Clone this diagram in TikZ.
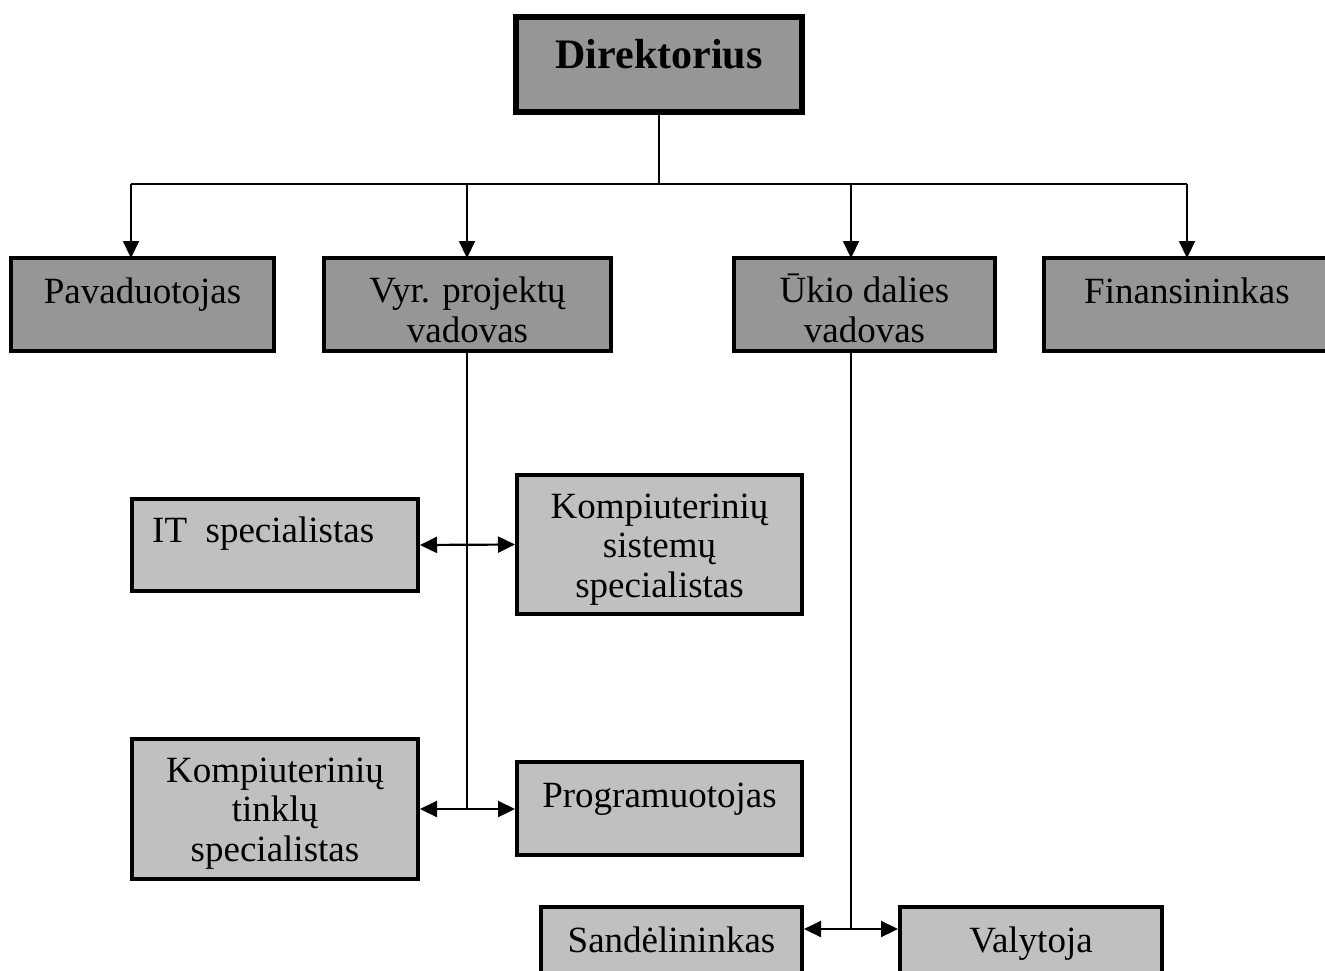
\documentclass[tikz,border=0pt]{standalone}
\usepackage{fontspec}
\setmainfont{Liberation Serif}
\usetikzlibrary{arrows.meta}
\definecolor{topgray}{RGB}{150,150,150}
\definecolor{lowgray}{RGB}{192,192,192}
\begin{document}
\begin{tikzpicture}[x=1pt,y=-1pt,
  box/.style={draw=black, line width=4pt, inner sep=0pt, rectangle},
  upper/.style={box, fill=topgray, minimum height=93pt},
  lower/.style={box, fill=lowgray},
  lbl/.style={anchor=base, align=center, inner sep=0pt,
              font=\fontsize{37pt}{39.5pt}\selectfont},
  link/.style={line width=2.2pt},
  tip/.style={-{Triangle[length=17pt,width=16pt]}},
  dtip/.style={{Triangle[length=17pt,width=16pt]}-{Triangle[length=17pt,width=16pt]}}
]
\useasboundingbox (0,0) rectangle (1325,971);
\clip (0,0) rectangle (1325,971);

% head of the organisation
\node[box, fill=topgray, line width=6pt, minimum width=286pt, minimum height=95pt]
  (dir) at (659,64.5) {};
\node[lbl, font=\fontsize{42pt}{46pt}\selectfont\bfseries] (tdir) at (659,69) {Direktorius};

% first level
\node[upper, minimum width=263pt] (pav) at (142.5,304.5) {};
\node[upper, minimum width=287pt] (vyr) at (467.5,304.5) {};
\node[upper, minimum width=261pt] (uk)  at (864.5,304.5) {};
\node[upper, minimum width=286pt] (fin) at (1187,304.5) {};

% project staff
\node[lower, minimum width=286pt, minimum height=92pt]  (it)   at (275,545) {};
\node[lower, minimum width=285pt, minimum height=139pt] (ks)   at (659.5,544.5) {};
\node[lower, minimum width=286pt, minimum height=140pt] (kt)   at (275,809) {};
\node[lower, minimum width=285pt, minimum height=93pt]  (prog) at (659.5,808.5) {};

% household staff
\node[lower, minimum width=261pt, minimum height=93pt] (sand) at (671.5,953.5) {};
\node[lower, minimum width=262pt, minimum height=93pt] (val)  at (1031,953.5) {};

% branching under the head
\coordinate (hub) at (659,184);
\coordinate (b1) at (131,184);
\coordinate (b2) at (467,184);
\coordinate (b3) at (851,184);
\coordinate (b4) at (1187,184);
\draw[link] (dir.south) -- (hub);
\draw[link] (b1) -- (b4);
\draw[link, tip] (b1) -- ([yshift=-2pt]b1 |- pav.north);
\draw[link, tip] (b2) -- ([yshift=-2pt]b2 |- vyr.north);
\draw[link, tip] (b3) -- ([yshift=-2pt]b3 |- uk.north);
\draw[link, tip] (b4) -- ([yshift=-2pt]b4 |- fin.north);

% project manager's line
\coordinate (p0) at (467,353);
\coordinate (p2) at (p0 |- prog.west);
\draw[link] (p0 |- vyr.south) -- (p2);
\draw[link, dtip] (it.east) -- (ks.west);
\draw[link, dtip] (kt.east) -- (kt.east -| prog.west);

% household manager's line
\coordinate (u0) at (851,353);
\coordinate (u1) at (851,929);
\draw[link] (u0 |- uk.south) -- (u1);
\draw[link, dtip] (sand.east |- u1) -- (val.west |- u1);

% labels (base anchor sits on the last line's baseline)
\node[lbl] (tpav) at (142.5,303) {Pavaduotojas};
\node[lbl] (tvyr) at (467.5,342) {Vyr. projektų\\vadovas};
\node[lbl] (tuk)  at (864.5,342) {Ūkio dalies\\vadovas};
\node[lbl] (tfin) at (1187,303) {Finansininkas};
\node[lbl, anchor=base west] (tit) at (152,542) {IT~~specialistas};
\node[lbl] (tks)   at (659.5,597) {Kompiuterinių\\sistemų\\specialistas};
\node[lbl] (tkt)   at (275,861) {Kompiuterinių\\tinklų\\specialistas};
\node[lbl] (tprog) at (659.5,807) {Programuotojas};
\node[lbl] (tsand) at (671.5,952) {Sandėlininkas};
\node[lbl] (tval)  at (1031,952) {Valytoja};
\end{tikzpicture}
\end{document}
